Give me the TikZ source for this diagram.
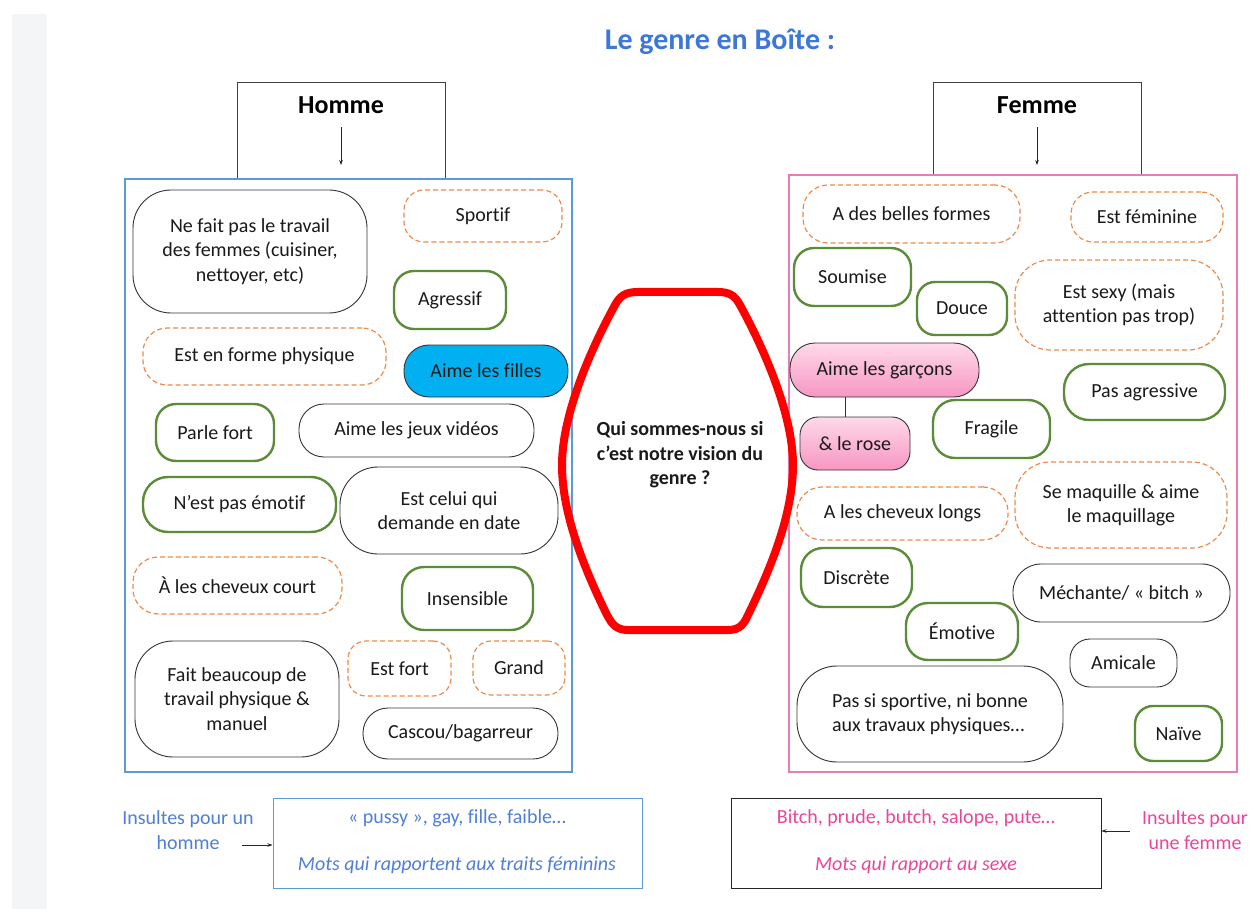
\documentclass[tikz,border=0pt]{standalone}
\usepackage{fontspec}
\setmainfont{Carlito}[Ligatures=CommonOff]
\usetikzlibrary{arrows.meta}
\definecolor{ttlblue}{HTML}{3C78D8}
\definecolor{frblue}{HTML}{5B9BD5}
\definecolor{frpink}{HTML}{E67DB7}
\definecolor{grn}{HTML}{5B8C3A}
\definecolor{orng}{HTML}{ED8B4C}
\definecolor{cyanf}{HTML}{00B0F0}
\definecolor{pinktop}{HTML}{FFD9EA}
\definecolor{pinkbot}{HTML}{F796C2}
\definecolor{insblue}{HTML}{4F7FD6}
\definecolor{inspink}{HTML}{E8469B}
\definecolor{stripc}{HTML}{F4F5F7}
\definecolor{txt}{HTML}{1A1A1A}
% \bx{name}{style}{x1}{y1}{x2}{y2}{text}{radius}
\newcommand\bx[8]{\node[#2, rounded corners=#8pt, minimum width={#5-#3}, minimum height={#6-#4}] (#1) at ({(#3+#5)/2},{(#4+#6)/2}) {#7};}
\begin{document}
\begin{tikzpicture}[x=1pt,y=-1pt,
  font=\fontsize{20}{24.4}\selectfont, text=txt,
  blk/.style={draw=black!80, line width=0.9pt, align=center, inner sep=0pt},
  grnb/.style={draw=grn, line width=2.4pt, align=center, inner sep=0pt},
  dsh/.style={draw=orng, line width=1.2pt, dash pattern=on 5pt off 3pt, align=center, inner sep=0pt},
  cyanb/.style={blk, fill=cyanf},
  pnk/.style={blk, top color=pinktop, bottom color=pinkbot},
  headbox/.style={draw=black!75, line width=0.8pt},
  arr/.style={-{Stealth[length=5pt,width=3.5pt]}, line width=0.6pt, draw=black!85},
  headtxt/.style={font=\fontsize{26}{30}\selectfont\bfseries, text=black},
]
\useasboundingbox (0,0) rectangle (1253,909);
\fill[white] (0,0) rectangle (1253,909);
\fill[stripc] (12,14) rectangle (47,909);

% title
\node[font=\fontsize{30}{36}\selectfont\bfseries, text=ttlblue] (title) at (720,42) {Le genre en Boîte :};

% head boxes
\draw[headbox] (237,179) -- (237,82) -- (445,82) -- (445,179);
\node[headtxt] (homme) at (341,105) {Homme};
\coordinate (ha) at (341,165);
\draw[arr] ([yshift=-10pt]homme.south) -- (ha);

\draw[headbox] (933,175) -- (933,82) -- (1141,82) -- (1141,175);
\node[headtxt] (femme) at (1037,105) {Femme};
\coordinate (fa) at (1037,165);
\draw[arr] ([yshift=-10pt]femme.south) -- (fa);

% frames
\draw[frblue, line width=1.1pt] (125,179) rectangle (572,772);
\draw[frpink, line width=1.3pt] (789,175) rectangle (1237,772);

% left nodes
\bx{nefait}{blk}{133}{190}{367}{313}{Ne fait pas le travail\\des femmes (cuisiner,\\nettoyer, etc)}{38}
\bx{sportif}{dsh}{404}{190}{562}{242}{Sportif}{20}
\bx{agressif}{grnb}{394}{271}{506}{329}{Agressif}{20}
\bx{forme}{dsh}{143}{328}{386}{385}{Est en forme physique}{24}
\bx{filles}{cyanb}{404}{345}{568}{397}{Aime les filles}{25}
\bx{parle}{grnb}{156}{404}{274}{461}{Parle fort}{20}
\bx{jeux}{blk}{299}{404}{534}{457}{Aime les jeux vidéos}{25}
\bx{emotif}{grnb}{143}{477}{336}{532}{N’est pas émotif}{25}
\bx{celui}{blk}{340}{467}{558}{554}{Est celui qui\\demande en date}{38}
\bx{court}{dsh}{133}{557}{342}{614}{À les cheveux court}{25}
\bx{insensible}{grnb}{402}{567}{533}{630}{Insensible}{22}
\bx{fait}{blk}{135}{641}{339}{757}{Fait beaucoup de\\travail physique \&\\manuel}{38}
\bx{fort}{dsh}{348}{641}{451}{696}{Est fort}{18}
\bx{grand}{dsh}{473}{641}{565}{695}{Grand}{18}
\bx{cascou}{blk}{363}{708}{558}{759}{Cascou/bagarreur}{25}

% right nodes
\bx{belles}{dsh}{803}{185}{1020}{243}{A des belles formes}{25}
\bx{feminine}{dsh}{1071}{192}{1223}{242}{Est féminine}{22}
\bx{soumise}{grnb}{794}{248}{911}{306}{Soumise}{20}
\bx{douce}{grnb}{917}{282}{1007}{335}{Douce}{18}
\bx{sexy}{dsh}{1015}{260}{1223}{350}{Est sexy (mais\\attention pas trop)}{35}
\bx{garcons}{pnk}{790}{343}{979}{397}{Aime les garçons}{25}
\coordinate (grx) at (845,0);
\draw[black!80, line width=0.9pt] (garcons.south -| grx) -- (845,417);
\bx{rose}{pnk}{800}{417}{910}{470}{\& le rose}{18}
\bx{fragile}{grnb}{933}{400}{1050}{458}{Fragile}{22}
\bx{pasagr}{grnb}{1064}{364}{1225}{420}{Pas agressive}{25}
\bx{maquille}{dsh}{1015}{462}{1227}{548}{Se maquille \& aime\\le maquillage}{35}
\bx{longs}{dsh}{797}{487}{1008}{540}{A les cheveux longs}{25}
\bx{discrete}{grnb}{801}{548}{912}{607}{Discrète}{22}
\bx{mechante}{blk}{1013}{564}{1230}{622}{Méchante/ «~bitch~»}{28}
\bx{emotive}{grnb}{906}{603}{1018}{660}{Émotive}{22}
\bx{amicale}{blk}{1070}{639}{1177}{687}{Amicale}{20}
\node[blk, align=left, rounded corners=40pt, minimum width=266, minimum height=96] (sportive) at (930,714) {Pas si sportive, ni bonne\\aux travaux physiques…};
\bx{naive}{grnb}{1135}{706}{1222}{761}{Naïve}{18}

% central red shape
\draw[red, line width=8pt, line join=round]
  (680,292) -- (718,292) .. controls (730,292) and (735,296) .. (740,305)
  .. controls (770,360) and (793,420) .. (793,465)
  .. controls (793,515) and (770,570) .. (748,615)
  .. controls (744,624) and (740,630) .. (728,630)
  -- (628,630) .. controls (616,630) and (612,624) .. (607,615)
  .. controls (585,570) and (562,515) .. (562,465)
  .. controls (562,420) and (585,360) .. (615,305)
  .. controls (620,296) and (625,292) .. (638,292) -- cycle;
\node[font=\fontsize{20}{24.4}\selectfont\bfseries, align=center] (qui) at (680,455) {Qui sommes-nous si\\c’est notre vision du\\genre ?};

% bottom left
\node[draw=frblue, line width=1pt, minimum width=369, minimum height=90, inner sep=0pt] (ib) at (457.5,843) {};
\node[text=insblue] (ib1) at (457,818) {«~pussy~», gay, fille, faible…};
\node[text=insblue, font=\fontsize{20}{24.4}\selectfont\itshape] (ib2) at (457,865) {Mots qui rapportent aux traits féminins};
\node[text=insblue, align=center] (ih) at (188,830) {Insultes pour un\\homme};
\coordinate (iha) at (242,845);
\draw[arr] (iha) -- (ib.west |- iha);

% bottom right
\node[draw=black!85, line width=1pt, minimum width=370, minimum height=90, inner sep=0pt] (fb) at (916,843) {};
\node[text=inspink] (fb1) at (916,818) {Bitch, prude, butch, salope, pute…};
\node[text=inspink, font=\fontsize{20}{24.4}\selectfont\itshape] (fb2) at (916,865) {Mots qui rapport au sexe};
\node[text=inspink, align=center] (ifm) at (1195,830) {Insultes pour\\une femme};
\coordinate (ifa) at (1130,831);
\draw[arr] (ifa) -- (fb.east |- ifa);
\end{tikzpicture}
\end{document}
